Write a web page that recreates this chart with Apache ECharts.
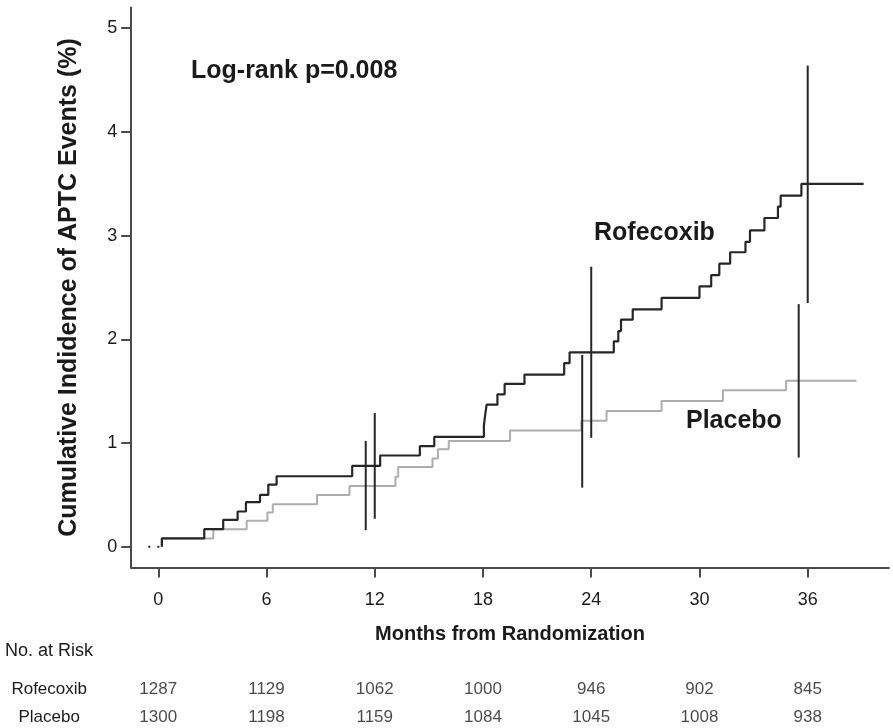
<!DOCTYPE html>
<html>
<head>
<meta charset="utf-8">
<script src="https://cdn.jsdelivr.net/npm/echarts@6/dist/echarts.min.js"></script>
<style>
  html, body { margin: 0; padding: 0; background: #fff; }
  #chart { width: 893px; height: 728px; }
</style>
</head>
<body>
<div id="chart"></div>
<script>
// ---- Data ----
const tickMonths = [0, 6, 12, 18, 24, 30, 36];
const yTicks = [0, 1, 2, 3, 4, 5];

// Kaplan-Meier style step curves: [month, cumulative incidence %]
const rofecoxib = [
  [0.2, 0], [0.2, 0.08], [2.55, 0.17], [3.6, 0.26], [4.4, 0.34], [4.86, 0.43], [5.64, 0.50],
  [6.1, 0.60], [6.56, 0.68], [10.75, 0.78], [12.3, 0.88], [14.5, 0.97], [15.3, 1.06],
  [18.05, 1.17], [18.12, 1.27], [18.2, 1.37], [18.8, 1.47], [19.2, 1.57], [20.3, 1.66],
  [22.5, 1.77], [22.8, 1.875], [25.25, 1.98], [25.5, 2.08], [25.65, 2.19], [26.3, 2.29],
  [27.9, 2.40], [30.0, 2.51], [30.65, 2.62], [31.1, 2.73], [31.7, 2.84], [32.55, 2.94],
  [32.8, 3.05], [33.6, 3.17], [34.35, 3.28], [34.5, 3.385], [35.65, 3.50], [39.1, 3.50]
];
const placebo = [
  [0.2, 0], [0.2, 0.08], [3.05, 0.17], [4.9, 0.25], [6.05, 0.33], [6.35, 0.41], [8.8, 0.50],
  [10.6, 0.585], [13.15, 0.675], [13.3, 0.77], [15.2, 0.85], [15.5, 0.94], [16.1, 1.02],
  [19.5, 1.12], [23.45, 1.215], [24.85, 1.31], [27.9, 1.405], [31.3, 1.51], [34.8, 1.60],
  [38.7, 1.60]
];
const startSegment = [[-0.55, 0], [0.2, 0]];

// Confidence interval bars: [month, low, high]
const placeboCI = [[11.5, 0.16, 1.02], [23.5, 0.57, 1.85], [35.5, 0.86, 2.34]];
const rofecoxibCI = [[12.0, 0.27, 1.29], [24.0, 1.05, 2.70], [36.0, 2.35, 4.64]];

// Number at risk table
const riskRows = ['Rofecoxib', 'Placebo'];
const rofecoxibRisk = [1287, 1129, 1062, 1000, 946, 902, 845];
const placeboRisk = [1300, 1198, 1159, 1084, 1045, 1008, 938];

const texts = {
  yTitle: 'Cumulative Indidence of APTC Events (%)',
  xTitle: 'Months from Randomization',
  logRank: 'Log-rank p=0.008',
  riskTitle: 'No. at Risk'
};

// ---- Build ----
const FONT = "'Liberation Sans', Arial, Helvetica, sans-serif";
const DARK = '#262626';
const GRAY = '#adadad';
const AXIS = '#4a4a4a';

const riskData = [];
tickMonths.forEach((m, i) => {
  riskData.push([m, 0, rofecoxibRisk[i]]);
  riskData.push([m, 1, placeboRisk[i]]);
});
const riskRowIdx = riskRows.map((_, i) => i);

function ciRender(color) {
  return function (params, api) {
    const p1 = api.coord([api.value(0), api.value(1)]);
    const p2 = api.coord([api.value(0), api.value(2)]);
    return {
      type: 'line',
      shape: { x1: p1[0], y1: p1[1], x2: p2[0], y2: p2[1] },
      style: { stroke: color, lineWidth: 2 }
    };
  };
}

const chart = echarts.init(document.getElementById('chart'), null, { renderer: 'canvas' });
chart.setOption({
  animation: false,
  backgroundColor: '#fff',
  textStyle: { fontFamily: FONT },
  grid: [
    { left: 131.2, top: 7.5, width: 757.7, height: 560 },
    { left: 131.2, top: 675, width: 757.7, height: 53 }
  ],
  xAxis: [
    {
      gridIndex: 0, type: 'value', min: -1.5, max: 40.5,
      axisLine: { show: true, onZero: false, lineStyle: { color: AXIS, width: 2 } },
      axisTick: { show: true, length: 10, customValues: tickMonths, lineStyle: { color: AXIS, width: 2 } },
      axisLabel: { customValues: tickMonths, margin: 24, fontSize: 18, color: '#1a1a1a', fontFamily: FONT },
      splitLine: { show: false },
      name: texts.xTitle, nameLocation: 'middle', nameGap: 57,
      nameTextStyle: { fontSize: 20, fontWeight: 'bold', color: '#1a1a1a', fontFamily: FONT }
    },
    {
      gridIndex: 1, type: 'value', min: -1.5, max: 40.5, show: false
    }
  ],
  yAxis: [
    {
      gridIndex: 0, type: 'value', min: -0.2, max: 5.2,
      axisLine: { show: true, onZero: false, lineStyle: { color: AXIS, width: 2 } },
      axisTick: { show: true, length: 10, customValues: yTicks, lineStyle: { color: AXIS, width: 2 } },
      axisLabel: { customValues: yTicks, margin: 14, fontSize: 18, color: '#1a1a1a', fontFamily: FONT },
      splitLine: { show: false },
      name: texts.yTitle, nameLocation: 'middle', nameGap: 50,
      nameTextStyle: { fontSize: 25, fontWeight: 'bold', color: '#1a1a1a', fontFamily: FONT }
    },
    {
      gridIndex: 1, type: 'value', inverse: true, min: -0.5, max: 1.393,
      axisLine: { show: false }, axisTick: { show: false }, splitLine: { show: false },
      axisLabel: {
        customValues: riskRowIdx, formatter: v => riskRows[Math.round(v)] || '',
        align: 'center', margin: 82, fontSize: 17, color: '#1a1a1a', fontFamily: FONT
      }
    }
  ],
  series: [
    {
      type: 'line', xAxisIndex: 0, yAxisIndex: 0, data: startSegment, symbol: 'none',
      lineStyle: { color: DARK, width: 2, type: [2, 7] }, silent: true
    },
    {
      name: 'Placebo', type: 'line', step: 'end', data: placebo, symbol: 'none',
      lineStyle: { color: GRAY, width: 2 }, z: 2
    },
    {
      name: 'Rofecoxib', type: 'line', step: 'end', data: rofecoxib, symbol: 'none',
      lineStyle: { color: DARK, width: 2.2 }, z: 3
    },
    {
      type: 'custom', data: placeboCI, renderItem: ciRender(DARK), z: 4,
      encode: { x: 0, y: [1, 2] }
    },
    {
      type: 'custom', data: rofecoxibCI, renderItem: ciRender(DARK), z: 4,
      encode: { x: 0, y: [1, 2] }
    },
    {
      type: 'scatter', xAxisIndex: 1, yAxisIndex: 1, data: riskData,
      symbolSize: 1, itemStyle: { color: 'rgba(0,0,0,0)' },
      label: {
        show: true, position: 'inside', fontSize: 17, color: '#1a1a1a', fontFamily: FONT,
        formatter: p => String(p.value[2])
      }
    }
  ],
  graphic: [
    { type: 'text', left: 191, top: 59, style: { text: texts.logRank, font: 'bold 25px ' + FONT, fill: '#1a1a1a' } },
    { type: 'text', left: 594, top: 221, style: { text: riskRows[0], font: 'bold 25px ' + FONT, fill: '#1a1a1a' } },
    { type: 'text', left: 686, top: 409, style: { text: riskRows[1], font: 'bold 25px ' + FONT, fill: '#1a1a1a' } },
    { type: 'text', left: 5, top: 642, style: { text: texts.riskTitle, font: '18px ' + FONT, fill: '#1a1a1a' } }
  ]
});
</script>
</body>
</html>
